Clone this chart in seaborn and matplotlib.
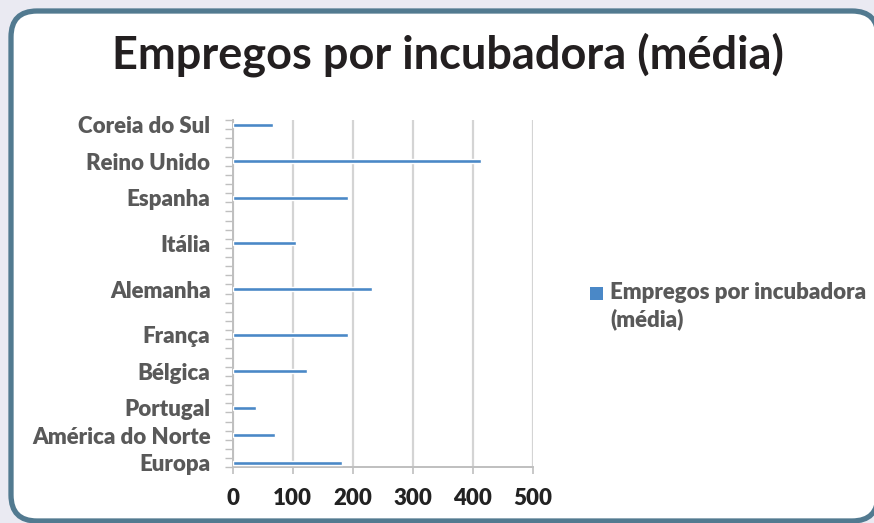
import matplotlib
matplotlib.use('Agg')
import matplotlib.pyplot as plt
from matplotlib.patches import FancyBboxPatch, Rectangle
from matplotlib.legend_handler import HandlerPatch
from matplotlib.container import BarContainer
import numpy as np
import pandas as pd
import seaborn as sns

# Dados do gráfico (linha = posição da categoria na tabela original, 38 linhas)
paises = ['Coreia do Sul', 'Reino Unido', 'Espanha', 'Itália', 'Alemanha',
          'França', 'Bélgica', 'Portugal', 'América do Norte', 'Europa']
empregos = [67, 414, 192, 105, 232, 192, 124, 39, 70, 182]
linhas = [37, 33, 29, 24, 19, 14, 10, 6, 3, 0]
n_linhas = 38
serie = 'Empregos por incubadora (média)'
xticks = [0, 100, 200, 300, 400, 500]

df = pd.DataFrame({'pais': paises, 'empregos': empregos, 'linha': linhas})

sns.set_theme(style='white')
plt.rcParams['font.family'] = ['Lato', 'DejaVu Sans']

fig = plt.figure(figsize=(8.74, 5.23), dpi=100, facecolor='#eaeaf2')

# Moldura arredondada
frame = FancyBboxPatch((0.11, 0.02), 8.67, 5.10,
                       boxstyle='round,pad=0,rounding_size=0.26',
                       transform=fig.dpi_scale_trans,
                       facecolor='white', edgecolor='#527a90', linewidth=3.8,
                       zorder=-10)
fig.patches.append(frame)

ax = fig.add_axes([0.2662, 0.1065, 0.3436, 0.6641])
ax.set_facecolor('none')

sns.barplot(data=df, x='empregos', y='linha', orient='y', native_scale=True,
            width=0.147, color='#4a88c7', saturation=1, label=serie,
            errorbar=None, ax=ax, zorder=3)

ax.set_xlim(0, 500)
ax.set_ylim(-0.5, n_linhas - 0.5)
ax.set_xticks(xticks)
ax.set_xticklabels([str(v) for v in xticks], fontsize=16, fontweight='heavy',
                   color='#222222')
ax.set_yticks(linhas)
ax.set_yticklabels(paises, fontsize=16, fontweight='heavy', color='#595959')
ax.set_yticks(np.arange(-0.5, n_linhas, 1), minor=True)
ax.tick_params(axis='y', which='major', length=0, pad=16)
ax.tick_params(axis='y', which='minor', length=6, width=1, color='#bfbfbf',
               direction='out', left=True)
ax.tick_params(axis='x', which='major', length=5, width=1.2, color='#bfbfbf',
               direction='out', bottom=True, pad=10)
ax.set_xlabel('')
ax.set_ylabel('')

ax.grid(axis='x', color='#d4d4d4', linewidth=1.6, zorder=0)
ax.grid(axis='y', visible=False)
ax.set_axisbelow(True)
for s in ['top', 'right']:
    ax.spines[s].set_visible(False)
for s in ['left', 'bottom']:
    ax.spines[s].set_color('#bfbfbf')
    ax.spines[s].set_linewidth(1.4)

fig.text(0.512, 0.895, serie, ha='center', va='center', fontsize=32.5,
         fontweight='bold', color='#231f20')


# quadrado da legenda alinhado com a primeira linha do texto
def quadrado(legend, orig_handle, xdescent, ydescent, width, height, fontsize):
    lado = 0.585 * fontsize
    return Rectangle((-xdescent, -ydescent + 0.62 * fontsize), lado, lado)


def copia_cor(legend_handle, orig_handle):
    legend_handle.set_facecolor(orig_handle.patches[0].get_facecolor())
    legend_handle.set_edgecolor('none')


leg = ax.legend(loc='upper left', bbox_to_anchor=(0.675, 0.46),
                bbox_transform=fig.transFigure, frameon=False,
                handlelength=0.6, handleheight=0.6, handletextpad=0.3,
                borderpad=0, borderaxespad=0,
                handler_map={BarContainer: HandlerPatch(patch_func=quadrado,
                                                        update_func=copia_cor)},
                prop={'size': 16, 'weight': 'heavy'})
for t in leg.get_texts():
    t.set_text('Empregos por incubadora\n(média)')
    t.set_color('#595959')
    t.set_linespacing(1.3)

fig.savefig('out.png', dpi=100, facecolor=fig.get_facecolor())
